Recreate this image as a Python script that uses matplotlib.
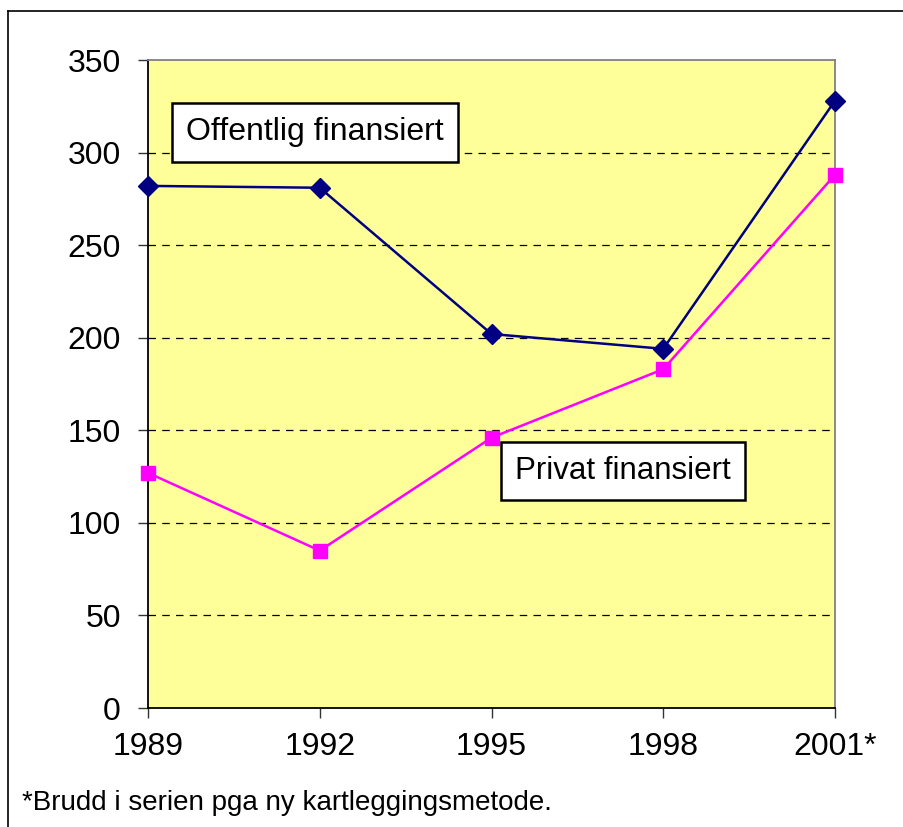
import matplotlib
matplotlib.use("Agg")
import matplotlib.pyplot as plt
from matplotlib.lines import Line2D

plt.rcParams["font.family"] = ["Liberation Sans", "DejaVu Sans"]

# ── data ───────────────────────────────
years = ["1989", "1992", "1995", "1998", "2001*"]
offentlig = [282, 281, 202, 194, 328]
privat = [127, 85, 146, 183, 288]

NAVY = "#000080"
MAGENTA = "#ff00ff"
PLOTBG = "#ffff99"

fig = plt.figure(figsize=(9.04, 8.27), dpi=100, facecolor="white")
ax = fig.add_axes([148 / 904, 1 - 708 / 827, (835 - 148) / 904, (708 - 60) / 827])
ax.set_facecolor(PLOTBG)

x = list(range(len(years)))
ax.plot(x, offentlig, color=NAVY, lw=1.8, marker="D", ms=10, mfc=NAVY, mec=NAVY,
        zorder=4, clip_on=False)
ax.plot(x, privat, color=MAGENTA, lw=1.8, marker="s", ms=10, mfc=MAGENTA, mec=MAGENTA,
        zorder=3, clip_on=False)

ax.set_xlim(0, len(years) - 1)
ax.set_ylim(0, 350)
ax.set_yticks(range(0, 351, 50))
ax.set_xticks(x)
ax.set_xticklabels(years)
ax.tick_params(axis="both", direction="out", length=7.5, width=1, color="#333333",
               labelsize=23)
ax.tick_params(axis="y", pad=12)
ax.tick_params(axis="x", pad=10)

for yv in range(50, 301, 50):
    ax.axhline(yv, color="black", lw=0.9, ls=(0, (6, 5)), zorder=1)

ax.spines["left"].set_color("black")
ax.spines["bottom"].set_color("black")
ax.spines["top"].set_color("#808080")
ax.spines["right"].set_color("#808080")
for s in ax.spines.values():
    s.set_linewidth(1.3)

box = dict(boxstyle="square,pad=0.45", facecolor="white", edgecolor="black", linewidth=1.8)
ax.text(0.221, 311, "Offentlig finansiert", fontsize=23, ha="left", va="center",
        bbox=box, zorder=5)
ax.text(2.137, 128, "Privat finansiert", fontsize=22.5, ha="left", va="center",
        bbox=box, zorder=5)

fig.text(22 / 904, 1 - 803 / 827, "*Brudd i serien pga ny kartleggingsmetode.",
         fontsize=20, ha="left", va="center")

# outer chart border (extends past the image edges)
fig.add_artist(Line2D([8 / 904, 1.0], [1 - 11 / 827] * 2, transform=fig.transFigure,
                      color="black", lw=1.2))
fig.add_artist(Line2D([8 / 904] * 2, [0.0, 1 - 11 / 827], transform=fig.transFigure,
                      color="black", lw=1.2))

fig.savefig("out.png", dpi=100, facecolor="white")
